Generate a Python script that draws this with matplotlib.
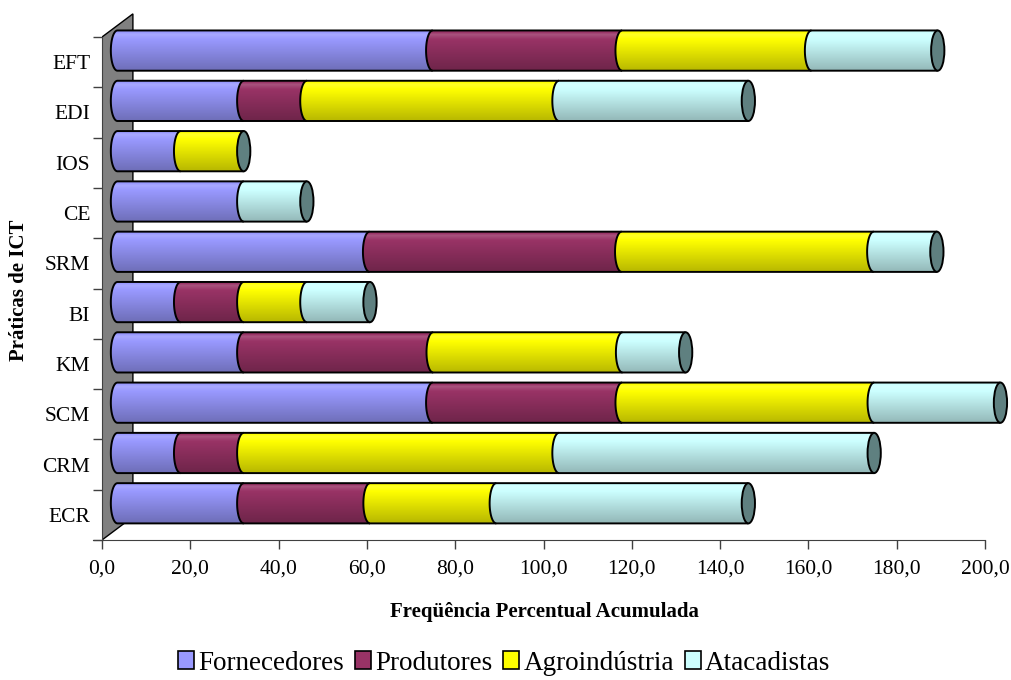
import numpy as np
import matplotlib.pyplot as plt
from matplotlib.path import Path
from matplotlib.patches import PathPatch, Polygon, Ellipse, Patch

plt.rcParams['font.family'] = ['Liberation Serif', 'DejaVu Serif']

categories = ['ECR', 'CRM', 'SCM', 'KM', 'BI', 'SRM', 'CE', 'IOS', 'EDI', 'EFT']
series_names = ['Fornecedores', 'Produtores', 'Agroindústria', 'Atacadistas']
fornecedores = [28.6, 14.3, 71.4, 28.6, 14.3, 57.1, 28.6, 14.3, 28.6, 71.4]
produtores = [28.6, 14.3, 42.9, 42.9, 14.3, 57.1, 0.0, 0.0, 14.3, 42.9]
agroindustria = [28.6, 71.4, 57.1, 42.9, 14.3, 57.1, 0.0, 14.3, 57.1, 42.9]
atacadistas = [57.1, 71.4, 28.6, 14.3, 14.3, 14.3, 14.3, 0.0, 42.9, 28.6]
xticks = [0, 20, 40, 60, 80, 100, 120, 140, 160, 180, 200]

colors = ['#9999FF', '#993366', '#FFFF00', '#CCFFFF']
cap_color = '#5F8080'

# 3d look: depth of the wall and position of the cylinders inside it
depth_x, depth_y = 7.0, 0.46
off_x, off_y = depth_x / 2, depth_y / 2
bar_h = 0.8
cap_a = 1.5   # horizontal half width of the cylinder ends


def shaded(color, n=64):
    rgb = np.array(plt.matplotlib.colors.to_rgb(color))
    t = np.linspace(1, 0, n)  # row 0 = top
    shade = np.interp(t, [0, 0.45, 0.78, 0.9, 1], [0.72, 0.88, 1.0, 1.04, 0.96])
    img = np.empty((n, 1, 3))
    for i, s in enumerate(shade):
        if s <= 1:
            img[i, 0] = rgb * s
        else:
            img[i, 0] = rgb + (1 - rgb) * (s - 1) * 4
    return np.clip(img, 0, 1)


def arc(xc, yc, a, b, t0, t1, n=40):
    t = np.radians(np.linspace(t0, t1, n))
    return np.column_stack([xc + a * np.cos(t), yc + b * np.sin(t)])


def segment(ax, left, right, yc, color):
    b = bar_h / 2
    left_arc = arc(left, yc, cap_a, b, 90, 270)  # top -> bottom through the left
    outline = np.vstack([[[right, yc + b]], left_arc, [[right, yc - b]]])
    body = np.vstack([outline, [[right, yc + b]]])
    clip = PathPatch(Path(body), facecolor='none', edgecolor='none')
    ax.add_patch(clip)
    im = ax.imshow(shaded(color), extent=[left - cap_a, right, yc - b, yc + b],
                   aspect='auto', interpolation='bilinear', zorder=3)
    im.set_clip_path(clip)
    ax.add_patch(PathPatch(Path(outline), fill=False, edgecolor='black', lw=1.4, zorder=4))


fig = plt.figure(figsize=(10.11, 6.8), dpi=100)
ax = fig.add_axes([102 / 1011, 140 / 680, 909 / 1011, 530 / 680])

# grey back wall and floor edge
n = len(categories)
wall = Polygon([(0, -0.5), (depth_x, -0.5 + depth_y), (depth_x, n - 0.5 + depth_y), (0, n - 0.5)],
               closed=True, facecolor='#808080', edgecolor='black', lw=1, zorder=1)
ax.add_patch(wall)

stack = np.array([fornecedores, produtores, agroindustria, atacadistas])
for i in range(n):
    yc = i + off_y
    start = 0.0
    for k in range(len(series_names)):
        v = stack[k, i]
        if v <= 0:
            continue
        segment(ax, start + off_x, start + v + off_x, yc, colors[k])
        start += v
    ax.add_patch(Ellipse((start + off_x, yc), 2 * cap_a, bar_h, facecolor=cap_color,
                         edgecolor='black', lw=1.4, zorder=5))

ax.set_xlim(0, 909 / 4.415)
ax.set_ylim(-0.5, -0.5 + 530 / 50.3)

for s in ['top', 'right']:
    ax.spines[s].set_visible(False)
ax.spines['bottom'].set_bounds(-2, 200)
ax.spines['left'].set_bounds(-0.5, n - 0.5)
ax.spines['bottom'].set_color('#404040')
ax.spines['left'].set_color('#404040')
ax.spines['bottom'].set_clip_on(False)

ax.set_xticks(xticks)
ax.set_xticklabels([f'{v:.1f}'.replace('.', ',') for v in xticks])
ax.tick_params(axis='x', direction='out', length=6.5, width=1, color='#404040', labelsize=15.5, pad=7.5)

ax.set_yticks(np.arange(-0.5, n, 1.0))
ax.set_yticklabels([])
ax.set_yticks(np.arange(n), minor=True)
ax.set_yticklabels(categories, minor=True)
ax.tick_params(axis='y', which='major', direction='out', length=6.5, width=1, color='#404040')
ax.tick_params(axis='y', which='minor', length=0, labelsize=15.5, pad=8.5)

ax.set_xlabel('Freqüência Percentual Acumulada', fontsize=15, fontweight='bold')
ax.xaxis.set_label_coords((544 - 102) / 909, -(612 - 540) / 530, transform=ax.transAxes)
ax.xaxis.label.set_va('center')
fig.text(19 / 1011, 1 - 290 / 680, 'Práticas de ICT', rotation=90, fontsize=15,
         fontweight='bold', ha='center', va='center')

handles = [Patch(facecolor=c, edgecolor='black', lw=1.2) for c in colors]
fig.legend(handles, series_names, loc='center', bbox_to_anchor=(504 / 1011, 1 - 663 / 680),
           ncol=4, frameon=False, fontsize=19.5, handlelength=0.6, handleheight=0.6,
           handletextpad=0.15, columnspacing=0.4)

fig.savefig('out.png', dpi=100)
